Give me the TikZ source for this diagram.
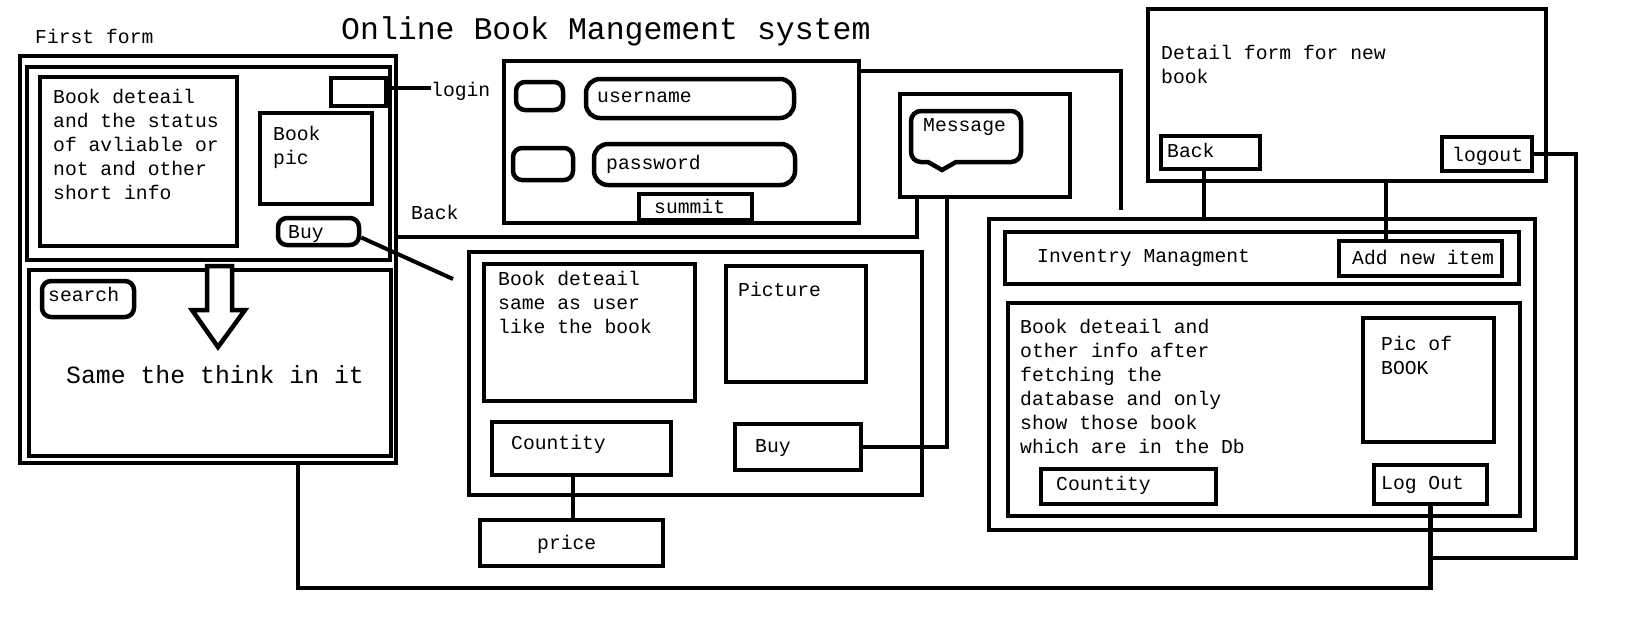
\documentclass[tikz,border=0pt]{standalone}
\usepackage{fontspec}
\setmainfont{Liberation Mono}
\usetikzlibrary{fit}

\begin{document}
\begin{tikzpicture}[x=1pt, y=-1pt,
    box/.style={draw, line width=4.5pt, inner sep=0pt},
    rbox/.style={box, rounded corners=9pt},
    field/.style={box, rounded corners=14pt},
    conn/.style={line width=4.5pt},
    txt/.style={inner sep=0pt, align=left, font=\fontsize{19.7}{24}\selectfont}]

    \path[use as bounding box, fill=white] (0,0) rectangle (1628,640);

    % Title
    \node[txt, font=\fontsize{31.5}{36}\selectfont, anchor=base west] (title) at (341,39) {Online Book Mangement system};

    % First form
    \node[txt, anchor=base west] (firstLbl) at (35,43) {First form};
    \node[box, fit={(20,56) (396,463)}] (formOne) {};
    \node[box, fit={(27,67) (390,260)}] (formOneTop) {};
    \node[box, fit={(29,270) (391,456)}] (formOneBot) {};
    \node[box, fit={(40,77) (237,246)}] (infoOne) {};
    \node[txt, anchor=north west] (infoOneTxt) at (53,88.6) {Book deteail\\and the status\\of avliable or\\not and other\\short info};
    \node[box, fit={(331,78) (386,106)}] (loginBtn) {};
    \node[txt, anchor=base west] (loginTxt) at (431,96) {login};
    \node[box, fit={(260,113) (372,204)}] (picOne) {};
    \node[txt, anchor=north west] (picOneTxt) at (273,125.6) {Book\\pic};
    \node[rbox, fit={(278,218) (359,245)}] (buyOne) {};
    \node[txt, anchor=base west] (buyOneTxt) at (288,238) {Buy};
    \node[txt, anchor=base west] (backOneTxt) at (411,219) {Back};
    \node[rbox, fit={(42,281) (134,317)}] (searchBtn) {};
    \node[txt, anchor=base west] (searchTxt) at (48,301) {search};
    \draw[line width=4.5pt, fill=white] (207,266) -- (232,266) -- (232,310) -- (245,310) -- (218,347) -- (192,310) -- (207,310) -- cycle;
    \node[txt, font=\fontsize{24.8}{30}\selectfont, anchor=base west] (sameTxt) at (66,383) {Same the think in it};

    % Login form
    \node[box, fit={(504,61) (859,223)}] (loginForm) {};
    \node[rbox, fit={(516,82) (563,110)}] (userIcon) {};
    \node[field, fit={(586,79) (794,118)}] (userField) {};
    \node[txt, anchor=base west] (userTxt) at (597,102) {username};
    \node[rbox, fit={(513,148) (573,180)}] (passIcon) {};
    \node[field, fit={(594,144) (795,185)}] (passField) {};
    \node[txt, anchor=base west] (passTxt) at (606,169) {password};
    \node[box, fit={(639,194) (752,220)}] (summitBtn) {};
    \node[txt, anchor=base west] (summitTxt) at (654,213) {summit};

    % Message
    \node[box, fit={(900,94) (1070,197)}] (msgBox) {};
    \draw[line width=4.5pt] (921,111) -- (1011,111) arc[start angle=-90, end angle=0, radius=10]
        -- (1021,152) arc[start angle=0, end angle=90, radius=10]
        -- (956,162) -- (942,170) -- (928,162) -- (921,162) arc[start angle=90, end angle=180, radius=10]
        -- (911,121) arc[start angle=180, end angle=270, radius=10] -- cycle;
    \node[txt, anchor=base west] (msgTxt) at (923,131) {Message};

    % Book page
    \node[box, fit={(469,252) (922,495)}] (formTwo) {};
    \node[box, fit={(484,264) (695,401)}] (infoTwo) {};
    \node[txt, anchor=north west] (infoTwoTxt) at (498,270.6) {Book deteail\\same as user\\like the book};
    \node[box, fit={(726,266) (866,382)}] (picTwo) {};
    \node[txt, anchor=base west] (picTwoTxt) at (738,296) {Picture};
    \node[box, fit={(492,422) (671,475)}] (cntTwo) {};
    \node[txt, anchor=base west] (cntTwoTxt) at (511,449) {Countity};
    \node[box, fit={(735,424) (861,470)}] (buyTwo) {};
    \node[txt, anchor=base west] (buyTwoTxt) at (755,452) {Buy};
    \node[box, fit={(480,520) (663,566)}] (priceBox) {};
    \node[txt, anchor=base west] (priceTxt) at (537,549) {price};

    % Detail form for new book
    \node[box, fit={(1148,9) (1546,181)}] (formNew) {};
    \node[txt, anchor=north west] (formNewTxt) at (1161,44.6) {Detail form for new\\book};
    \node[box, fit={(1161,136) (1260,169)}] (backBtn) {};
    \node[txt, anchor=base west] (backTxt) at (1167,157) {Back};
    \node[box, fit={(1442,137) (1532,171)}] (logoutBtn) {};
    \node[txt, anchor=base west] (logoutTxt) at (1452,161) {logout};

    % Inventory
    \node[box, fit={(989,219) (1535,530)}] (invBox) {};
    \node[box, fit={(1005,232) (1519,284)}] (invHead) {};
    \node[txt, anchor=base west] (invTxt) at (1037,262) {Inventry Managment};
    \node[box, fit={(1339,241) (1502,276)}] (addBtn) {};
    \node[txt, anchor=base west] (addTxt) at (1352,264) {Add new item};
    \node[box, fit={(1008,303) (1520,516)}] (invBody) {};
    \node[txt, anchor=north west] (invBodyTxt) at (1020,318.6) {Book deteail and\\other info after\\fetching the\\database and only\\show those book\\which are in the Db};
    \node[box, fit={(1363,318) (1494,442)}] (picThree) {};
    \node[txt, anchor=north west] (picThreeTxt) at (1381,335.6) {Pic of\\BOOK};
    \node[box, fit={(1041,469) (1216,504)}] (cntThree) {};
    \node[txt, anchor=base west] (cntThreeTxt) at (1056,490) {Countity};
    \node[box, fit={(1374,465) (1487,504)}] (logOutBtn) {};
    \node[txt, anchor=base west] (logOutTxt) at (1381,489) {Log Out};

    % Connectors
    \coordinate (buyEnd) at (453,279);
    \coordinate (loginEnd) at (1121,210);
    \coordinate (sideTurn) at (1576,558);
    \draw[conn] (loginBtn.east |- 0,88) -- (loginTxt.west |- 0,88);
    \draw[conn, line width=4pt] ([yshift=-6pt]buyOne.east) -- (buyEnd);
    \draw[conn] ([xshift=19pt]msgBox.south west) |- (formOne.east |- 0,237);
    \draw[conn] ([xshift=49pt]msgBox.south west) |- (buyTwo.east);
    \draw[conn] ([yshift=-12pt]loginForm.north east) -| (loginEnd);
    \draw[conn] (priceBox.north -| 573,0) -- (cntTwo.south -| 573,0);
    \draw[conn] (backBtn.south -| 1204,0) -- (invBox.north -| 1204,0);
    \draw[conn] (formNew.south -| 1386,0) -- (addBtn.north -| 1386,0);
    \draw[conn] (logoutBtn.east) -| (sideTurn) -- (logOutBtn.south |- sideTurn);
    \draw[conn] (formOne.south -| 298,0) |- (logOutBtn.south |- 0,588) -- (logOutBtn.south);
\end{tikzpicture}
\end{document}
